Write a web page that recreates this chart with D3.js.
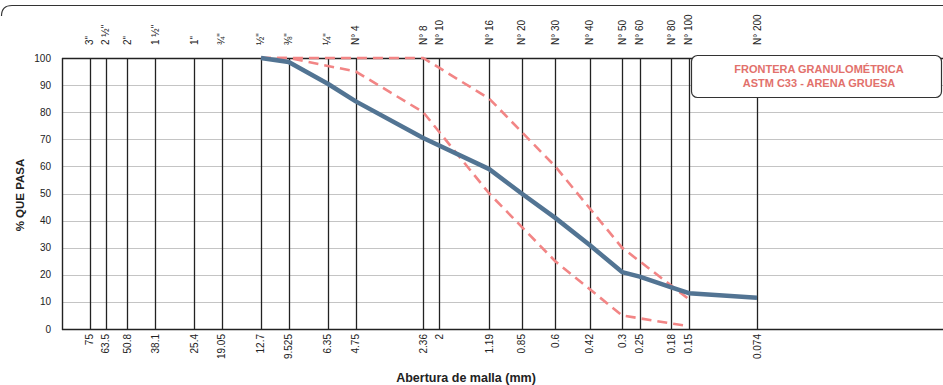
<!DOCTYPE html>
<html>
<head>
<meta charset="utf-8">
<script src="https://cdn.jsdelivr.net/npm/d3@7"></script>
<style>
  body { margin: 0; background: #fff; }
  svg { display: block; font-family: "Liberation Sans", Arial, sans-serif; }
</style>
</head>
<body>
<div id="chart"></div>
<script>
// sieve openings (mm) and their names
const sieveMm = [75, 63.5, 50.8, 38.1, 25.4, 19.05, 12.7, 9.525, 6.35, 4.75, 2.36, 2, 1.19, 0.85, 0.6, 0.42, 0.3, 0.25, 0.18, 0.15, 0.074];
const sieveLabels = ['75', '63.5', '50.8', '38.1', '25.4', '19.05', '12.7', '9.525', '6.35', '4.75', '2.36', '2', '1.19', '0.85', '0.6', '0.42', '0.3', '0.25', '0.18', '0.15', '0.074'];
const sieveNames = ['3"', '2 ½"', '2"', '1 ½"', '1"', '¾"', '½"', '⅜"', '¼"', 'N° 4', 'N° 8', 'N° 10', 'N° 16', 'N° 20', 'N° 30', 'N° 40', 'N° 50', 'N° 60', 'N° 80', 'N° 100', 'N° 200'];
const yTicks = [0, 10, 20, 30, 40, 50, 60, 70, 80, 90, 100];

// sample curve (% passing)
const sampleMm = [12.7, 9.525, 6.35, 4.75, 2.36, 1.19, 0.85, 0.6, 0.42, 0.3, 0.25, 0.18, 0.15, 0.074];
const samplePass = [100, 98.5, 90.5, 84, 70.5, 59, 50, 41, 31, 21, 19.3, 15.4, 13.2, 11.5];

// ASTM C33 limits
const limitMm = [12.7, 9.525, 4.75, 2.36, 1.19, 0.6, 0.3, 0.15];
const upperPass = [100, 100, 100, 100, 85, 60, 30, 11];
const lowerPass = [100, 100, 95, 80, 50, 25, 5, 1];

const width = 943, height = 385;
const plotLeft = 62, plotTop = 58, plotBottom = 329;

const svg = d3.select('#chart').append('svg')
    .attr('width', width)
    .attr('height', height);

const x = d3.scaleLog().domain([100, 0.01]).range([plotLeft, 950]);
const y = d3.scaleLinear().domain([0, 100]).range([plotBottom, plotTop]);

// outer frame top edge
svg.append('path')
    .attr('d', `M1.5,16 Q1.5,5.5 12,5.5 L${width},5.5`)
    .attr('fill', 'none')
    .attr('stroke', '#333')
    .attr('stroke-width', 1.2);

// horizontal grid
svg.append('g')
    .selectAll('line')
    .data(yTicks.filter(d => d > 0 && d < 100))
    .join('line')
    .attr('x1', plotLeft).attr('x2', width)
    .attr('y1', d => Math.round(y(d)) + 0.5).attr('y2', d => Math.round(y(d)) + 0.5)
    .attr('stroke', '#c4c4c4');

// vertical sieve lines
svg.append('g')
    .selectAll('line')
    .data(sieveMm)
    .join('line')
    .attr('x1', d => Math.round(x(d)) + 0.5).attr('x2', d => Math.round(x(d)) + 0.5)
    .attr('y1', plotTop).attr('y2', plotBottom)
    .attr('stroke', '#222')
    .attr('stroke-width', 1.3);

// plot borders
svg.append('line').attr('x1', plotLeft + 0.5).attr('x2', plotLeft + 0.5).attr('y1', plotTop).attr('y2', plotBottom + 1)
    .attr('stroke', '#222').attr('stroke-width', 1.4);
svg.append('line').attr('x1', plotLeft).attr('x2', width).attr('y1', plotTop + 0.5).attr('y2', plotTop + 0.5)
    .attr('stroke', '#222').attr('stroke-width', 1.4);
svg.append('line').attr('x1', plotLeft).attr('x2', width).attr('y1', plotBottom + 0.5).attr('y2', plotBottom + 0.5)
    .attr('stroke', '#222').attr('stroke-width', 1.6);

// y tick labels
svg.append('g')
    .selectAll('text')
    .data(yTicks)
    .join('text')
    .attr('x', 51)
    .attr('y', d => y(d))
    .attr('dy', '0.35em')
    .attr('text-anchor', 'end')
    .attr('font-size', 10)
    .attr('fill', '#222')
    .text(d => d);

// bottom labels (mm)
svg.append('g')
    .selectAll('text')
    .data(sieveMm)
    .join('text')
    .attr('transform', d => `translate(${x(d)},${plotBottom + 5}) rotate(-90)`)
    .attr('dy', '0.35em')
    .attr('text-anchor', 'end')
    .attr('font-size', 10)
    .attr('fill', '#222')
    .text((d, i) => sieveLabels[i]);

// top labels (sieve names)
svg.append('g')
    .selectAll('text')
    .data(sieveMm)
    .join('text')
    .attr('transform', d => `translate(${x(d)},45) rotate(-90)`)
    .attr('dy', '0.35em')
    .attr('text-anchor', 'start')
    .attr('font-size', 10)
    .attr('fill', '#222')
    .text((d, i) => sieveNames[i]);

// axis titles
svg.append('text')
    .attr('transform', 'translate(24,195) rotate(-90)')
    .attr('text-anchor', 'middle')
    .attr('font-size', 11.5)
    .attr('font-weight', 'bold')
    .attr('fill', '#222')
    .text('% QUE PASA');

svg.append('text')
    .attr('x', 466)
    .attr('y', 382)
    .attr('text-anchor', 'middle')
    .attr('font-size', 12.5)
    .attr('font-weight', 'bold')
    .attr('fill', '#222')
    .text('Abertura de malla (mm)');

const line = d3.line()
    .x(d => x(d[0]))
    .y(d => y(d[1]));

// limit curves
[upperPass, lowerPass].forEach(pass => {
    svg.append('path')
        .datum(limitMm.map((m, i) => [m, pass[i]]))
        .attr('d', line)
        .attr('fill', 'none')
        .attr('stroke', '#f28585')
        .attr('stroke-width', 2.6)
        .attr('stroke-dasharray', '10,6');
});

// sample curve
svg.append('path')
    .datum(sampleMm.map((m, i) => [m, samplePass[i]]))
    .attr('d', line)
    .attr('fill', 'none')
    .attr('stroke', '#527493')
    .attr('stroke-width', 4.5)
    .attr('stroke-linejoin', 'round');

// legend box
svg.append('rect')
    .attr('x', 691.5).attr('y', 55.5)
    .attr('width', 250).attr('height', 42)
    .attr('rx', 6)
    .attr('fill', '#fff')
    .attr('stroke', '#333')
    .attr('stroke-width', 1.2);

svg.append('text')
    .attr('x', 819).attr('y', 73)
    .attr('text-anchor', 'middle')
    .attr('font-size', 11)
    .attr('font-weight', 'bold')
    .attr('fill', '#e2716c')
    .text('FRONTERA GRANULOMÉTRICA');

svg.append('text')
    .attr('x', 819).attr('y', 87)
    .attr('text-anchor', 'middle')
    .attr('font-size', 11)
    .attr('font-weight', 'bold')
    .attr('fill', '#e2716c')
    .text('ASTM C33 - ARENA GRUESA');
</script>
</body>
</html>
